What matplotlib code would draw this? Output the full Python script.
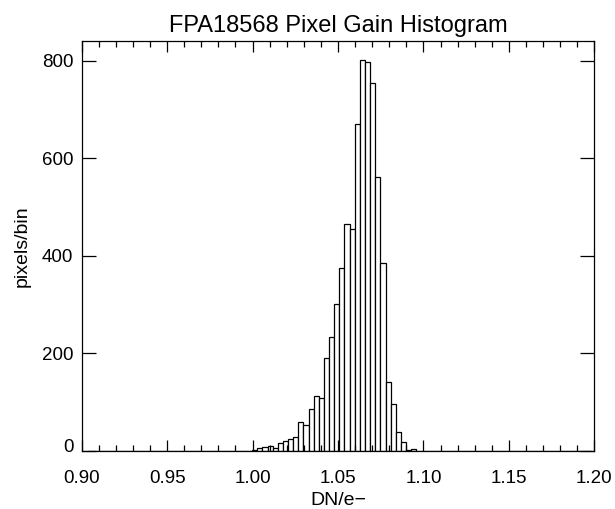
import matplotlib
matplotlib.use("Agg")
import matplotlib.pyplot as plt
import matplotlib.transforms as mtransforms
from matplotlib.ticker import MultipleLocator, FormatStrFormatter

plt.rcParams['font.family'] = ['Liberation Sans', 'DejaVu Sans']

# Histogram data (bin width 0.003, first bin left edge 0.9038)
bin_start = 0.9038
bin_width = 0.003
counts = [1, 0, 0, 0, 0, 0, 0, 0, 0, 0,
          0, 0, 0, 0, 0, 0, 0, 0, 0, 1,
          1, 0, 0, 1, 1, 0, 0, 0, 0, 1,
          1, 0, 3, 7, 9, 11, 7, 16, 20, 24,
          28, 59, 54, 87, 113, 108, 190, 234, 302, 375,
          466, 455, 669, 801, 797, 755, 562, 386, 142, 97,
          39, 19, 3, 5, 0, 0, 0, 1, 0, 0,
          0, 0, 0, 0, 0, 0, 0, 0, 0, 0,
          0, 0, 0, 0, 0, 0, 0, 0, 0, 0,
          0, 0, 0, 0, 0, 0, 0, 1]
lefts = [bin_start + i * bin_width for i in range(len(counts))]

title = "FPA18568 Pixel Gain Histogram"
xlabel = "DN/e\u2212"
ylabel = "pixels/bin"

fig = plt.figure(figsize=(6.15, 5.09), dpi=100)
ax = fig.add_axes([0.1328, 0.1139, 0.9664 - 0.1328, 0.9194 - 0.1139])

ax.bar(lefts, counts, width=bin_width, align='edge', color='white',
       edgecolor='black', linewidth=0.9)

ax.set_xlim(0.90, 1.20)
ax.set_ylim(0, 840)
ax.xaxis.set_major_locator(MultipleLocator(0.05))
ax.xaxis.set_minor_locator(MultipleLocator(0.01))
ax.xaxis.set_major_formatter(FormatStrFormatter('%.2f'))
ax.yaxis.set_major_locator(MultipleLocator(200))

ax.tick_params(axis='both', which='both', direction='in', top=True, right=True,
               labelsize=13.5, width=0.9)
ax.tick_params(axis='x', which='major', length=8, pad=14)
ax.tick_params(axis='x', which='minor', length=4)
ax.tick_params(axis='y', which='major', length=10, pad=6)
for s in ax.spines.values():
    s.set_linewidth(0.9)

ax.set_title(title, fontsize=17, pad=6.5)
ax.set_xlabel(xlabel, fontsize=14, labelpad=3.5)
ax.set_ylabel(ylabel, fontsize=14, labelpad=8)

# lift the "0" y tick label slightly, as in the reference
fig.canvas.draw()
for lab in ax.get_yticklabels():
    if lab.get_text() == '0':
        lab.set_transform(lab.get_transform() +
                          mtransforms.ScaledTranslation(0, 5.5 / 100, fig.dpi_scale_trans))

fig.savefig("out.png", dpi=100)
